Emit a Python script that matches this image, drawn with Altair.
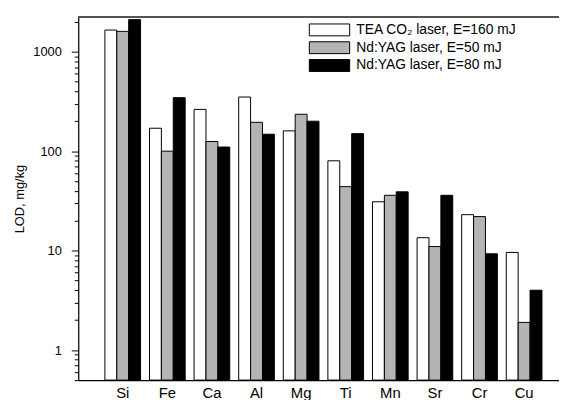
import altair as alt
import pandas as pd

elements = ["Si", "Fe", "Ca", "Al", "Mg", "Ti", "Mn", "Sr", "Cr", "Cu"]
series = ["TEA CO₂ laser, E=160 mJ", "Nd:YAG laser, E=50 mJ", "Nd:YAG laser, E=80 mJ"]
tea_co2_160 = [1650, 170, 263, 350, 160, 80, 31, 13.5, 23, 9.6]
ndyag_50 = [1600, 100, 125, 195, 235, 44, 36, 11, 22, 1.9]
ndyag_80 = [2100, 345, 110, 148, 200, 150, 39, 36, 9.3, 4.0]
y_domain = [0.5, 2230]
y_ticks = [0.5, 0.6, 0.7, 0.8, 0.9,
           1, 2, 3, 4, 5, 6, 7, 8, 9,
           10, 20, 30, 40, 50, 60, 70, 80, 90,
           100, 200, 300, 400, 500, 600, 700, 800, 900,
           1000, 2000]

rows = []
for name, vals in zip(series, [tea_co2_160, ndyag_50, ndyag_80]):
    for el, v in zip(elements, vals):
        rows.append({"element": el, "series": name, "lod": v})
df = pd.DataFrame(rows)

major = "datum.value == 1 || datum.value == 10 || datum.value == 100 || datum.value == 1000"

bars = alt.Chart(df).mark_bar(stroke="black", strokeWidth=1, clip=True).encode(
    x=alt.X("element:N", sort=elements,
            scale=alt.Scale(paddingInner=0.2, paddingOuter=0.49, align=0.61),
            axis=alt.Axis(title=None, ticks=False, labelAngle=0, labelFontSize=15,
                          labelPadding=6, labelColor="black", domainColor="black",
                          domainWidth=1.2, labelFont="Liberation Sans")),
    xOffset=alt.XOffset("series:N", sort=series, scale=alt.Scale(paddingInner=0, paddingOuter=0)),
    y=alt.Y("lod:Q",
            scale=alt.Scale(type="log", domain=y_domain, nice=False),
            axis=alt.Axis(title="LOD, mg/kg", values=y_ticks,
                          labelExpr=f"({major}) ? format(datum.value, 'd') : ''",
                          tickSize={"condition": {"test": major, "value": 7}, "value": 4},
                          tickColor="black", domainColor="black", domainWidth=1.2,
                          labelFontSize=13, labelColor="black", labelFont="Liberation Sans",
                          labelPadding=10, grid=False,
                          titleFontSize=13, titleFontWeight="normal", titleColor="black",
                          titleFont="Liberation Sans", titleX=-59, titleY=183.5,
                          titleAngle=270, titleAlign="center", titleBaseline="middle")),
    y2=alt.datum(y_domain[0]),
    fill=alt.Fill("series:N", sort=series,
                  scale=alt.Scale(domain=series, range=["white", "#b4b4b4", "black"]),
                  legend=alt.Legend(title=None, orient="none", legendX=247, legendY=6,
                                    symbolType="M-3.4,-1H3.4V1H-3.4Z", symbolSize=144,
                                    symbolStrokeColor="black", symbolStrokeWidth=1,
                                    labelOffset=20, labelFontSize=14, labelColor="black",
                                    labelFont="Liberation Sans", labelLimit=400,
                                    rowPadding=2, padding=0)),
)

frame_top = alt.Chart(df).mark_rule(color="#555555", strokeWidth=1.5).encode(
    y=alt.datum(y_domain[1])
)

chart = alt.layer(bars, frame_top).properties(
    width=486, height=367,
    autosize=alt.AutoSizeParams(type="none"),
    padding={"left": 71, "top": 7, "right": 0, "bottom": 18},
).configure_view(stroke=None).configure(background="white")

chart.save("out.html", embed_options={"renderer": "svg", "actions": False})
